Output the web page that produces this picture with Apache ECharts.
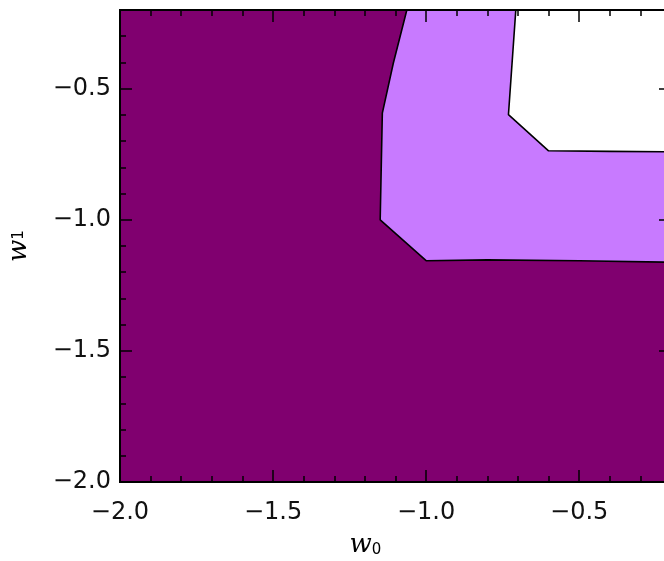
<!DOCTYPE html>
<html>
<head>
<meta charset="utf-8">
<script src="https://cdn.jsdelivr.net/npm/echarts@6/dist/echarts.min.js"></script>
<style>html,body{margin:0;padding:0;background:#fff}#c{width:664px;height:561px}</style>
</head>
<body>
<div id="c"></div>
<script>
// Domain of the contour plot
const w0Range = [-2.0, -0.2];
const w1Range = [-2.0, -0.2];
const majorTickValues = [-2.0, -1.5, -1.0, -0.5];
// Contour level lines (w0, w1)
const outerContour = [[-1.063,-0.2],[-1.107,-0.402],[-1.143,-0.593],[-1.150,-1.0],[-1.0,-1.156],[-0.8,-1.153],[-0.5,-1.156],[-0.2,-1.162]];
const innerContour = [[-0.707,-0.2],[-0.731,-0.599],[-0.600,-0.737],[-0.4,-0.739],[-0.2,-0.741]];
const levelColors = ['#80006f', '#c87aff', '#ffffff'];

const regions = [
  [[w0Range[0],w1Range[0]],[w0Range[1],w1Range[0]],[w0Range[1],w1Range[1]],[w0Range[0],w1Range[1]]],
  outerContour.concat([[w0Range[1],w1Range[1]]]),
  innerContour.concat([[w0Range[1],w1Range[1]]])
];

const chart = echarts.init(document.getElementById('c'));
const fmt = v => {
  const ok = majorTickValues.some(m => Math.abs(m - v) < 1e-6);
  return ok ? v.toFixed(1).replace('-', '\u2212') : '';
};
const labelStyle = {fontFamily:'DejaVu Sans', fontSize:24, color:'#111'};
function axisPair(kind, pos, major, withLabels, name) {
  const a = {
    type:'value', position:pos, z:20, min:(kind==='x'?w0Range:w1Range)[0], max:(kind==='x'?w0Range:w1Range)[1],
    interval: major ? 0.5 : 0.1,
    axisLine:{show:true, onZero:false, lineStyle:{color:'#000', width:2}}, splitLine:{show:false},
    axisTick:{show:true, inside:true, length: major?12:6, lineStyle:{color:'#000', width:1.5}},
    axisLabel: withLabels ? Object.assign({show:true, formatter:fmt, margin: kind==='x'?19:9, showMaxLabel:false}, labelStyle) : {show:false}
  };
  if (name) Object.assign(a, name);
  return a;
}
chart.setOption({
  animation:false,
  backgroundColor:'#fff',
  grid:{left:120, top:10, width:551, height:472, outerBoundsMode:'none', containLabel:false, show:true, borderColor:'#000', borderWidth:2, backgroundColor:'transparent', z:10},
  xAxis:[
    axisPair('x','bottom',true,true,{name:'{w|w}{s|0}', nameLocation:'middle', nameGap:50,
      nameTextStyle:{rich:{w:{fontFamily:'DejaVu Serif', fontStyle:'italic', fontSize:26, color:'#000'}, s:{fontFamily:'DejaVu Sans', fontSize:15, color:'#000', verticalAlign:'bottom', padding:[10,0,0,0]}}, padding:[0,60,0,0]}}),
    axisPair('x','bottom',false,false),
    axisPair('x','top',true,false),
    axisPair('x','top',false,false)
  ],
  yAxis:[
    axisPair('y','left',true,true,{name:'{w|w}{s|1}', nameLocation:'middle', nameGap:88,
      nameTextStyle:{rich:{w:{fontFamily:'DejaVu Serif', fontStyle:'italic', fontSize:26, color:'#000'}, s:{fontFamily:'DejaVu Sans', fontSize:15, color:'#000'}}}}),
    axisPair('y','left',false,false),
    axisPair('y','right',true,false),
    axisPair('y','right',false,false)
  ],
  series:[
    {
      type:'custom', xAxisIndex:0, yAxisIndex:0, z:1,
      data: regions.map((r,i)=>[i]),
      renderItem:(params, api)=>{
        const i = params.dataIndex;
        const pts = regions[i].map(p=>api.coord(p));
        return {type:'polygon', shape:{points:pts}, style:{fill:levelColors[i], stroke:null}};
      }
    },
    {type:'line', xAxisIndex:0, yAxisIndex:0, z:5, data:outerContour, symbol:'none', lineStyle:{color:'#000', width:1.6}},
    {type:'line', xAxisIndex:0, yAxisIndex:0, z:5, data:innerContour, symbol:'none', lineStyle:{color:'#000', width:1.6}}
  ]
});
</script>
</body>
</html>
